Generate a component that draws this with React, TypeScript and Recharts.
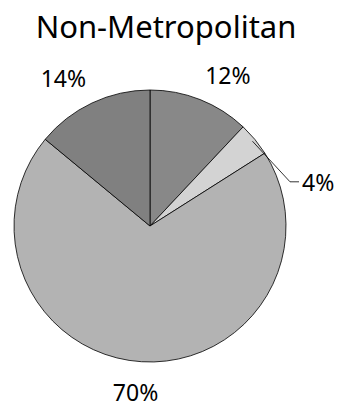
import { Cell, Pie, PieChart } from "recharts";

const title = "Non-Metropolitan";
const segments = ["Segment A", "Segment B", "Segment C", "Segment D"];
const shares = [12, 4, 70, 14];
const fills = ["#888888", "#d3d3d3", "#b3b3b3", "#808080"];

const data = segments.map((name, i) => ({ name, value: shares[i] }));

const RAD = Math.PI / 180;
const FONT = "'Noto Sans', sans-serif";
const LABEL_SIZE = 23;

// Excel-style outside labels; tiny slices get a leader line off to the right.
function renderLabel(props: any) {
  const { cx, cy, midAngle, outerRadius, value, index } = props;
  const cos = Math.cos(-midAngle * RAD);
  const sin = Math.sin(-midAngle * RAD);
  const txt = `${value}%`;

  if (value < 5) {
    const sx = cx + (outerRadius - 3) * cos;
    const sy = cy + (outerRadius - 3) * sin;
    const ex = cx + outerRadius + 4;
    const ey = cy - outerRadius * 0.325;
    return (
      <g key={`lbl-${index}`}>
        <polyline points={`${sx},${sy} ${ex},${ey} ${ex + 9},${ey}`} fill="none" stroke="#000" strokeWidth={0.8} />
        <text x={ex + 12} y={ey + 9} fontSize={LABEL_SIZE} fontFamily={FONT} fill="#000" textAnchor="start">{txt}</text>
      </g>
    );
  }

  const r = outerRadius + 14;
  const x = cx + r * cos;
  const y = cy + r * sin;
  const anchor = cos > 0.3 ? "start" : cos < -0.3 ? "end" : "middle";
  const dy = sin < -0.3 ? -3 : sin > 0.3 ? 25 : 8;
  const dx = anchor === "middle" ? -5 : 0;
  return (
    <text key={`lbl-${index}`} x={x + dx} y={y + dy} fontSize={LABEL_SIZE} fontFamily={FONT} fill="#000" textAnchor={anchor}>
      {txt}
    </text>
  );
}

export default function App() {
  return (
    <div style={{ position: "absolute", left: 0, top: 0, width: 344, height: 408, background: "#fff" }}>
      <div
        style={{
          position: "absolute", left: 0, top: 3, width: 332, textAlign: "center",
          fontFamily: FONT, fontSize: 31, color: "#000", lineHeight: "46px",
        }}
      >
        {title}
      </div>
      <PieChart width={344} height={408} margin={{ top: 0, right: 0, bottom: 0, left: 0 }}>
        <Pie
          data={data}
          dataKey="value"
          cx={150}
          cy={226}
          outerRadius={136}
          startAngle={90}
          endAngle={-270}
          stroke="#000"
          strokeWidth={0.8}
          label={renderLabel}
          labelLine={false}
          isAnimationActive={false}
        >
          {data.map((d, i) => <Cell key={d.name} fill={fills[i]} />)}
        </Pie>
      </PieChart>
    </div>
  );
}
